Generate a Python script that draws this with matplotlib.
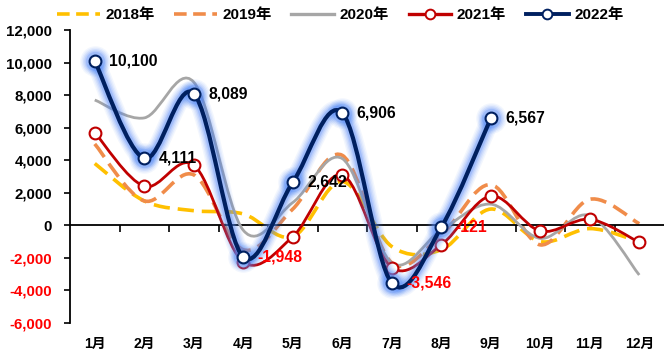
import matplotlib
matplotlib.use('Agg')
import matplotlib.pyplot as plt
import numpy as np
from matplotlib.path import Path
from matplotlib.patches import PathPatch
from matplotlib.lines import Line2D
from matplotlib.ticker import FuncFormatter

months = ['1月', '2月', '3月', '4月', '5月', '6月', '7月', '8月', '9月', '10月', '11月', '12月']
years = ['2018年', '2019年', '2020年', '2021年', '2022年']

v2018 = [3800, 1500, 900, 700, -700, 2700, -1300, -1500, 1000, -1000, -200, -1000]
v2019 = [5000, 1500, 3100, -1500, 1000, 4300, -2300, -600, 2500, -1200, 1600, 100]
v2020 = [7700, 6600, 8800, -300, 1400, 4100, -2300, -300, 1300, -800, 600, -3050]
v2021 = [5700, 2400, 3700, -2250, -700, 3100, -2600, -1200, 1800, -350, 370, -1050]
v2022 = [10100, 4111, 8089, -1948, 2642, 6906, -3546, -121, 6567]

C2018 = '#FFC000'
C2019 = '#F08C4A'
C2020 = '#A6A6A6'
C2021 = '#C00000'
C2022 = '#002060'
GLOW = '#4F86F7'
NEG = '#FF0000'

plt.rcParams['font.family'] = ['Liberation Sans', 'Noto Sans CJK SC']
plt.rcParams['font.weight'] = 'bold'


def smooth_path(xs, ys):
    '''Cubic bezier path through the points, Excel-style smoothing'''
    pts = np.column_stack([xs, ys]).astype(float)
    n = len(pts)
    verts, codes = [pts[0]], [Path.MOVETO]
    for i in range(n - 1):
        p0 = pts[i - 1] if i > 0 else pts[i]
        p1, p2 = pts[i], pts[i + 1]
        p3 = pts[i + 2] if i + 2 < n else pts[i + 1]
        verts += [p1 + (p2 - p0) / 6.0, p2 - (p3 - p1) / 6.0, p2]
        codes += [Path.CURVE4] * 3
    return Path(verts, codes)


def add_curve(ax, vals, color, lw, ls='-', alpha=1.0, z=2):
    xs = np.arange(1, len(vals) + 1)
    patch = PathPatch(smooth_path(xs, vals), fill=False, edgecolor=color, lw=lw,
                      linestyle=ls, alpha=alpha, zorder=z, capstyle='butt',
                      joinstyle='round')
    ax.add_patch(patch)


fig = plt.figure(figsize=(6.64, 3.54), dpi=100)
ax = fig.add_axes([70 / 664, 1 - 323 / 354, 594 / 664, 293 / 354])

dash = (0, (4.5, 2.2))
add_curve(ax, v2018, C2018, 2.6, dash, z=2)
add_curve(ax, v2019, C2019, 2.6, dash, z=2)
add_curve(ax, v2020, C2020, 2.0, z=3)
add_curve(ax, v2021, C2021, 2.0, z=4)

x21 = np.arange(1, len(v2021) + 1)
ax.plot(x21, v2021, ls='none', marker='o', ms=8.5, mfc='white', mec=C2021, mew=1.5, zorder=5)

# soft glow under the 2022 line
x22 = np.arange(1, len(v2022) + 1)
for w, a in [(14, 0.07), (12, 0.09), (10, 0.12), (8, 0.16), (6, 0.25)]:
    add_curve(ax, v2022, GLOW, w, alpha=a, z=6)
    ax.plot(x22, v2022, ls='none', marker='o', ms=8 + w, mfc=GLOW, mec='none',
            alpha=a, zorder=6)
add_curve(ax, v2022, C2022, 3.0, z=7)
ax.plot(x22, v2022, ls='none', marker='o', ms=8.5, mfc='white', mec=C2022, mew=1.5, zorder=8)

for xi, val in zip(x22, v2022):
    ax.annotate('{:,}'.format(val), (xi, val), xytext=(10.5, 0), textcoords='offset points',
                ha='left', va='center', fontsize=11.3, fontweight='bold',
                color=NEG if val < 0 else 'black', zorder=9)

ax.set_xlim(0.5, 12.5)
ax.set_ylim(-6000, 12000)
ax.set_yticks(np.arange(-6000, 12001, 2000))
ax.yaxis.set_major_formatter(FuncFormatter(lambda v, _: '{:,}'.format(int(v))))
ax.tick_params(axis='y', direction='out', length=4, width=1.2, labelsize=10.8, pad=9)
for lab, val in zip(ax.get_yticklabels(), ax.get_yticks()):
    lab.set_color(NEG if val < 0 else 'black')

for side in ['top', 'right']:
    ax.spines[side].set_visible(False)
ax.spines['left'].set_linewidth(1.3)
ax.spines['bottom'].set_position(('data', 0))
ax.spines['bottom'].set_linewidth(1.3)
ax.set_xticks(np.arange(1, 13))
ax.set_xticks(np.arange(1.5, 12.5, 1), minor=True)
ax.tick_params(axis='x', which='major', length=0, labelbottom=False)
ax.tick_params(axis='x', which='minor', direction='out', length=5, width=1.2)

month_ax = ax.secondary_xaxis(0.0)
month_ax.set_xticks(np.arange(1, 13), months)
month_ax.spines['bottom'].set_visible(False)
month_ax.tick_params(length=0, labelsize=10, pad=10)

handles = [
    Line2D([], [], color=C2018, lw=2.6, ls=(0, (3.5, 1.8))),
    Line2D([], [], color=C2019, lw=2.6, ls=(0, (3.5, 1.8))),
    Line2D([], [], color=C2020, lw=2.4),
    Line2D([], [], color=C2021, lw=2.4, marker='o', ms=7, mfc='white', mec=C2021, mew=1.4),
    Line2D([], [], color=C2022, lw=2.8, marker='o', ms=7, mfc='white', mec=C2022, mew=1.4),
]
fig.legend(handles, years, loc='center left', bbox_to_anchor=(57 / 664, 1 - 15 / 354), ncol=5,
           frameon=False, fontsize=11, handlelength=2.8, handletextpad=0.35,
           columnspacing=1.3, borderpad=0, borderaxespad=0)

fig.savefig('out.png', dpi=100)
